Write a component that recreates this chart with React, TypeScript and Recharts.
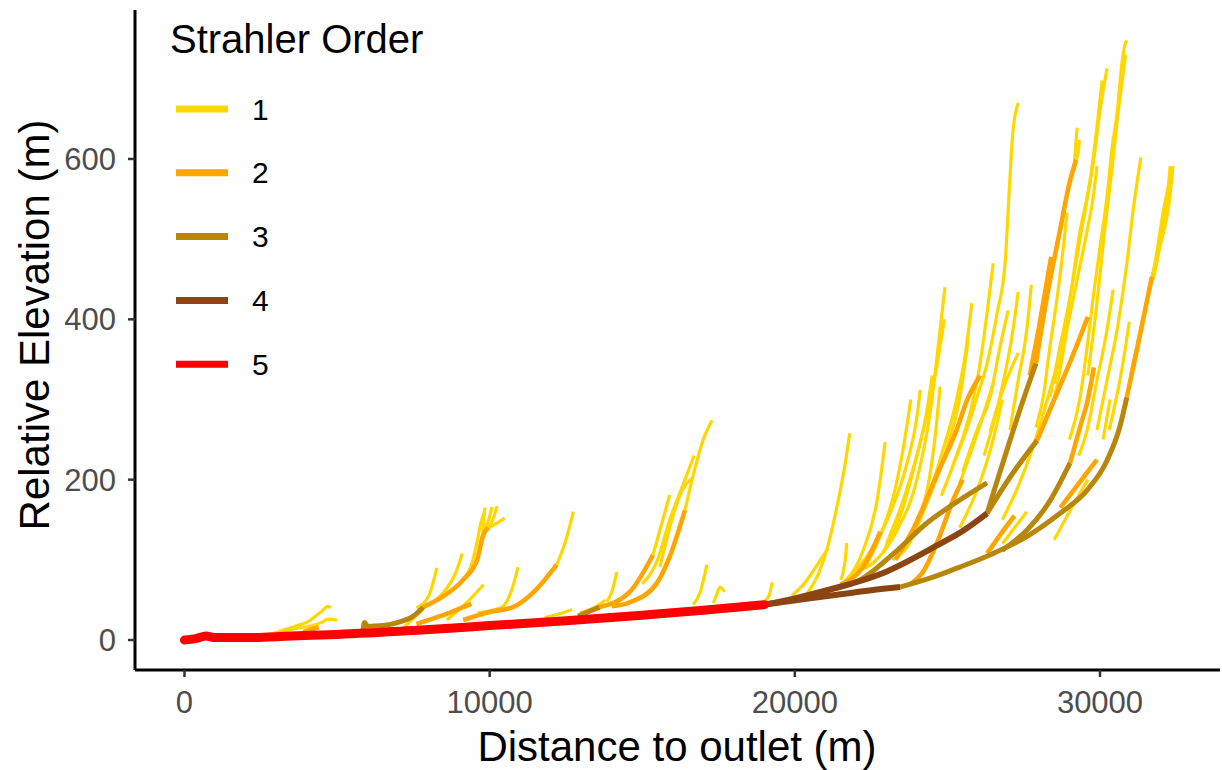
import React from 'react';
import { LineChart, Line, XAxis, YAxis } from 'recharts';

type Pt = [number, number]; // [distance to outlet (m), relative elevation (m)]

const orderLabels = ['1', '2', '3', '4', '5'];
const orderColors = ['#FFD700', '#FFA500', '#B8860B', '#8B4513', '#FF0000'];
const orderWidths = [3.2, 4.6, 5, 6, 9];
const xTicks = [0, 10000, 20000, 30000];
const yTicks = [0, 200, 400, 600];

// first order streams (headwaters)
const order1Streams: Pt[][] = [
    [[2200, 4], [2700, 7], [3100, 9]],
    [[2700, 5], [3200, 12], [3700, 18], [4100, 24], [4300, 30], [4500, 36], [4700, 42], [4800, 40]],
    [[3000, 8], [3600, 14], [4200, 18], [4500, 22], [4700, 26], [5000, 25]],
    [[5700, 10], [6000, 16]],
    [[7200, 16], [7800, 38]],
    [[7600, 40], [8000, 55], [8270, 90]],
    [[8050, 45], [8500, 60], [8900, 85], [9100, 108]],
    [[8600, 25], [9200, 45], [9800, 69]],
    [[9100, 75], [9450, 100], [9600, 125], [9700, 145], [9850, 160]],
    [[9780, 133], [9800, 150], [9850, 165]],
    [[9780, 133], [9950, 148], [10080, 166]],
    [[9900, 138], [10100, 150], [10240, 167]],
    [[9950, 140], [10200, 145], [10500, 152]],
    [[9600, 34], [10400, 41], [10700, 60], [10930, 91]],
    [[11800, 28], [12400, 34], [12700, 38]],
    [[12200, 94], [12500, 125], [12740, 160]],
    [[12960, 34], [13400, 40], [13800, 50]],
    [[13840, 48], [14000, 60], [14170, 85]],
    [[15350, 106], [15600, 140], [15900, 181]],
    [[15580, 91], [15900, 140], [16240, 181], [16670, 203]],
    [[15000, 70], [15500, 100], [15900, 150], [16300, 190], [16700, 230]],
    [[16400, 162], [16700, 210], [17000, 250], [17290, 274]],
    [[16670, 44], [16900, 60], [17120, 94]],
    [[17330, 46], [17450, 58], [17550, 66], [17700, 60]],
    [[18930, 46], [19150, 55], [19260, 72]],
    [[19900, 55], [20300, 70], [20840, 100], [21100, 115]],
    [[20400, 58], [20800, 85], [21100, 120], [21400, 170], [21650, 220], [21800, 258]],
    [[21500, 75], [21650, 100], [21700, 121]],
    [[21300, 65], [21700, 75], [22240, 112], [22700, 175], [22960, 247]],
    [[21600, 72], [22560, 116], [23120, 158], [23680, 221], [24000, 278], [24110, 312]],
    [[22000, 85], [22560, 96], [23350, 137], [24000, 200], [24430, 283], [24760, 387], [24920, 440]],
    [[22300, 90], [22800, 130], [23300, 190], [23600, 250], [23800, 300]],
    [[23000, 120], [23600, 180], [24200, 260], [24600, 330], [24900, 400]],
    [[23200, 100], [23680, 116], [24330, 171], [25000, 241], [25410, 303], [25680, 374]],
    [[24000, 150], [24400, 200], [24600, 255], [24760, 316]],
    [[22900, 110], [23500, 160], [24000, 230], [24300, 280], [24500, 330]],
    [[24200, 160], [24800, 230], [25300, 300], [25600, 360], [25800, 420]],
    [[24800, 180], [25300, 230], [25740, 283], [26070, 345], [26300, 408], [26500, 470]],
    [[25400, 195], [26000, 260], [26500, 320]],
    [[25500, 210], [25970, 262], [26400, 303], [26720, 365], [26990, 411]],
    [[25200, 220], [25700, 270], [25970, 303], [26300, 345], [26630, 408], [26890, 470], [27050, 577], [27150, 636], [27320, 670]],
    [[26200, 230], [26720, 303], [27150, 387], [27320, 434]],
    [[26400, 260], [26800, 310], [27320, 358]],
    [[27050, 262], [27320, 324], [27600, 387], [27750, 443]],
    [[25400, 140], [26000, 190], [26500, 250], [26800, 300]],
    [[26800, 150], [27300, 190], [27800, 240], [28200, 290], [28500, 330]],
    [[26800, 120], [27600, 160]],
    [[27900, 265], [28140, 303], [28360, 366], [28600, 428], [28800, 490], [28920, 533]],
    [[28360, 303], [28690, 366], [29020, 428], [29350, 511], [29580, 553], [29780, 595], [30000, 660], [30230, 713]],
    [[28500, 320], [28900, 400], [29300, 490], [29700, 580], [29900, 640], [30070, 698]],
    [[29000, 250], [29350, 303], [29580, 366], [29780, 428], [30000, 490], [30230, 553], [30400, 615], [30560, 657], [30720, 720], [30800, 740], [30880, 748]],
    [[29600, 330], [29900, 420], [30150, 510], [30400, 590], [30600, 660], [30780, 712], [30840, 730]],
    [[28500, 300], [28690, 337], [28920, 387], [29250, 449], [29580, 511], [29780, 553], [29900, 591]],
    [[29150, 590], [29200, 615], [29250, 639]],
    [[29220, 599], [29300, 612], [29320, 624]],
    [[29300, 230], [29580, 262], [29900, 324], [30230, 387], [30430, 437]],
    [[29900, 262], [30230, 324], [30560, 387], [30880, 470], [31100, 540], [31340, 602]],
    [[30300, 262], [30430, 283], [30750, 345], [30960, 397]],
    [[30100, 250], [30330, 300]],
    [[28500, 125], [29000, 160], [29600, 200]],
    [[31000, 330], [31400, 400], [31800, 470], [32100, 540], [32350, 585]],
    [[31700, 453], [31960, 490], [32290, 553], [32390, 591]],
    [[31750, 450], [32000, 500], [32200, 550], [32300, 591]],
];

const order2Streams: Pt[][] = [
    [[3900, 10], [4400, 16]],
    [[7820, 41], [8500, 55], [9130, 75], [9590, 100], [9780, 130], [9950, 140]],
    [[7600, 20], [8400, 30], [9130, 41], [9400, 45]],
    [[9130, 25], [10000, 35], [10760, 41], [11500, 62], [12200, 94]],
    [[13600, 41], [14590, 60], [15350, 106]],
    [[14000, 42], [14590, 47], [15480, 71], [15900, 104], [16400, 162]],
    [[21500, 69], [22300, 95], [22800, 135]],
    [[23300, 100], [23900, 140], [24700, 210], [25300, 262], [25640, 299], [26070, 330]],
    [[23800, 70], [24200, 85], [24700, 125], [25190, 175], [25500, 200]],
    [[26300, 108], [26800, 135], [27200, 155]],
    [[27700, 330], [28000, 390], [28400, 478]],
    [[27900, 345], [28260, 428], [28690, 511], [29000, 570], [29220, 599]],
    [[27940, 249], [28500, 300], [29000, 345], [29600, 403]],
    [[29020, 221], [29350, 266], [29600, 300], [29800, 340]],
    [[28700, 165], [29300, 195], [29900, 225]],
    [[30880, 303], [31210, 362], [31700, 453]],
];

const order3Streams: Pt[][] = [
    [[5850, 12], [5900, 22], [6000, 17], [6500, 18], [7000, 22], [7500, 30], [7820, 41]],
    [[12900, 30], [13600, 41]],
    [[21000, 62], [22140, 75], [23300, 110], [24330, 146], [25300, 172], [26300, 196]],
    [[23450, 66], [24500, 78], [25410, 91], [26500, 108], [27600, 129], [28690, 158], [29580, 187], [30230, 224], [30650, 266], [30880, 303]],
    [[26800, 112], [27600, 137], [28300, 170], [29020, 221]],
    [[26300, 158], [26600, 195], [27050, 249], [27400, 290], [27900, 345]],
    [[26300, 158], [27050, 203], [27940, 249]],
];

const order4Streams: Pt[][] = [
    [[19000, 44], [20000, 52], [21150, 63], [22790, 82], [24660, 118], [25500, 136], [26300, 158]],
    [[19000, 44], [20500, 52], [21500, 57], [22500, 62], [23450, 66]],
];

const order5Streams: Pt[][] = [
    [[0, 0], [400, 2], [700, 5], [1000, 3], [2000, 3], [3500, 5], [5000, 7], [7500, 12], [10000, 18], [12500, 24], [15000, 31], [17000, 37], [19000, 44]],
];

const streamsByOrder = [order1Streams, order2Streams, order3Streams, order4Streams, order5Streams];

const toRows = (s: Pt[]) => s.map(([d, e]) => ({ d, e }));

const AxisTitle = (props: any) => {
    const { px, py, rot, text } = props;
    return (
        <text
            x={px}
            y={py}
            transform={rot ? `rotate(${rot},${px},${py})` : undefined}
            textAnchor="middle"
            fontSize={42}
            fill="#000000"
        >
            {text}
        </text>
    );
};

const App: React.FC = () => {
    return (
        <div style={{ position: 'absolute', left: 0, top: 0, width: 1222, height: 770, background: '#ffffff', fontFamily: '"Liberation Sans", Arial, sans-serif' }}>
            <LineChart width={1222} height={770} margin={{ top: 10, right: 2, bottom: 0, left: 0 }}>
                <XAxis
                    type="number"
                    dataKey="d"
                    domain={[-1622, 33932]}
                    allowDataOverflow
                    ticks={xTicks}
                    height={100}
                    axisLine={{ stroke: '#000000', strokeWidth: 3 }}
                    tickLine={{ stroke: '#333333', strokeWidth: 2.5 }}
                    tickSize={7}
                    tickMargin={14}
                    tick={{ fill: '#4D4D4D', fontSize: 31 }}
                    label={<AxisTitle px={677} py={761} text="Distance to outlet (m)" />}
                />
                <YAxis
                    type="number"
                    domain={[-37.4, 785.8]}
                    allowDataOverflow
                    ticks={yTicks}
                    width={135}
                    axisLine={{ stroke: '#000000', strokeWidth: 3 }}
                    tickLine={{ stroke: '#333333', strokeWidth: 2.5 }}
                    tickSize={7}
                    tickMargin={12}
                    tick={{ fill: '#4D4D4D', fontSize: 31 }}
                    label={<AxisTitle px={49} py={325} rot={-90} text="Relative Elevation (m)" />}
                />
                {streamsByOrder.flatMap((streams, oi) =>
                    streams.map((s, si) => (
                        <Line
                            key={`o${oi}-${si}`}
                            data={toRows(s)}
                            dataKey="e"
                            type="monotone"
                            stroke={orderColors[oi]}
                            strokeWidth={orderWidths[oi]}
                            strokeLinejoin="round"
                            strokeLinecap={oi === 4 ? 'round' : 'butt'}
                            dot={false}
                            activeDot={false}
                            legendType="none"
                            isAnimationActive={false}
                        />
                    ))
                )}
            </LineChart>
            <svg width={520} height={400} style={{ position: 'absolute', left: 0, top: 0, pointerEvents: 'none' }}>
                <text x={170} y={53} fontSize={40} fill="#000000">Strahler Order</text>
                {orderLabels.map((lab, i) => (
                    <g key={lab}>
                        <line x1={176} x2={228} y1={109 + 63.8 * i} y2={109 + 63.8 * i} stroke={orderColors[i]} strokeWidth={7} />
                        <text x={252} y={109 + 63.8 * i + 10.5} fontSize={30} fill="#000000">{lab}</text>
                    </g>
                ))}
            </svg>
        </div>
    );
};

export default App;
